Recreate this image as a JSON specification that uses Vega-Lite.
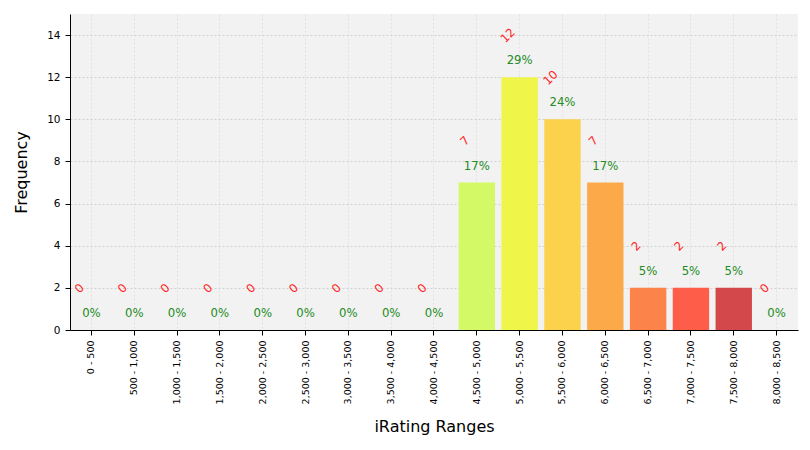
{
  "$schema": "https://vega.github.io/schema/vega-lite/v6.json",
  "width": 728,
  "height": 316,
  "padding": {"left": 13, "top": 14, "right": 13, "bottom": 10},
  "background": "white",
  "config": {
    "view": {"fill": "#f2f2f2", "stroke": null},
    "font": "DejaVu Sans"
  },
  "data": {
    "values": [
      {"range": "0 - 500", "count": 0, "pct": "0%"},
      {"range": "500 - 1,000", "count": 0, "pct": "0%"},
      {"range": "1,000 - 1,500", "count": 0, "pct": "0%"},
      {"range": "1,500 - 2,000", "count": 0, "pct": "0%"},
      {"range": "2,000 - 2,500", "count": 0, "pct": "0%"},
      {"range": "2,500 - 3,000", "count": 0, "pct": "0%"},
      {"range": "3,000 - 3,500", "count": 0, "pct": "0%"},
      {"range": "3,500 - 4,000", "count": 0, "pct": "0%"},
      {"range": "4,000 - 4,500", "count": 0, "pct": "0%"},
      {"range": "4,500 - 5,000", "count": 7, "pct": "17%"},
      {"range": "5,000 - 5,500", "count": 12, "pct": "29%"},
      {"range": "5,500 - 6,000", "count": 10, "pct": "24%"},
      {"range": "6,000 - 6,500", "count": 7, "pct": "17%"},
      {"range": "6,500 - 7,000", "count": 2, "pct": "5%"},
      {"range": "7,000 - 7,500", "count": 2, "pct": "5%"},
      {"range": "7,500 - 8,000", "count": 2, "pct": "5%"},
      {"range": "8,000 - 8,500", "count": 0, "pct": "0%"}
    ]
  },
  "encoding": {
    "x": {
      "field": "range",
      "type": "nominal",
      "sort": null,
      "scale": {"paddingInner": 0.15, "paddingOuter": 0.075},
      "axis": {
        "title": "iRating Ranges",
        "titleFontSize": 16,
        "titleFontWeight": "normal",
        "titleColor": "#000",
        "titlePadding": 15,
        "labelAngle": -90,
        "labelFontSize": 9.5,
        "labelColor": "#000",
        "labelPadding": 5,
        "domainColor": "#000",
        "tickColor": "#000",
        "tickSize": 5,
        "grid": true,
        "gridColor": "#dddddd",
        "gridDash": [2, 2],
        "gridWidth": 0.8
      }
    }
  },
  "layer": [
    {
      "mark": {"type": "bar"},
      "encoding": {
        "y": {
          "field": "count",
          "type": "quantitative",
          "scale": {"domain": [0, 15], "nice": false},
          "axis": {
            "title": "Frequency",
            "titleFontSize": 16,
            "titleFontWeight": "normal",
            "titleColor": "#000",
            "titlePadding": 17,
            "values": [0, 2, 4, 6, 8, 10, 12, 14],
            "labelFontSize": 10.5,
            "labelColor": "#000",
            "labelPadding": 5,
            "domainColor": "#000",
            "tickColor": "#000",
            "tickSize": 5,
            "gridColor": "#c8c8c8",
            "gridDash": [2, 2],
            "gridWidth": 0.8
          }
        },
        "color": {
          "field": "range",
          "type": "nominal",
          "legend": null,
          "scale": {
            "domain": ["0 - 500", "500 - 1,000", "1,000 - 1,500", "1,500 - 2,000", "2,000 - 2,500", "2,500 - 3,000", "3,000 - 3,500", "3,500 - 4,000", "4,000 - 4,500", "4,500 - 5,000", "5,000 - 5,500", "5,500 - 6,000", "6,000 - 6,500", "6,500 - 7,000", "7,000 - 7,500", "7,500 - 8,000", "8,000 - 8,500"],
            "range": ["#66c266", "#70c766", "#7acc66", "#88d166", "#98d666", "#a8dc66", "#b8e366", "#c4ec66", "#ccf266", "#d4f966", "#f0f54a", "#fcd14b", "#fca94a", "#fc844b", "#fe5d4a", "#d3494b", "#a83d45"]
          }
        }
      }
    },
    {
      "mark": {"type": "text", "angle": -45, "color": "#ff2020", "fontSize": 11.7, "dx": 21, "dy": -38, "baseline": "middle", "align": "center"},
      "encoding": {
        "y": {"field": "count", "type": "quantitative"},
        "text": {"field": "count", "type": "quantitative"}
      }
    },
    {
      "mark": {"type": "text", "color": "#228b22", "fontSize": 11.7, "dy": -17, "baseline": "middle", "align": "center"},
      "encoding": {
        "y": {"field": "count", "type": "quantitative"},
        "text": {"field": "pct", "type": "nominal"}
      }
    }
  ]
}
